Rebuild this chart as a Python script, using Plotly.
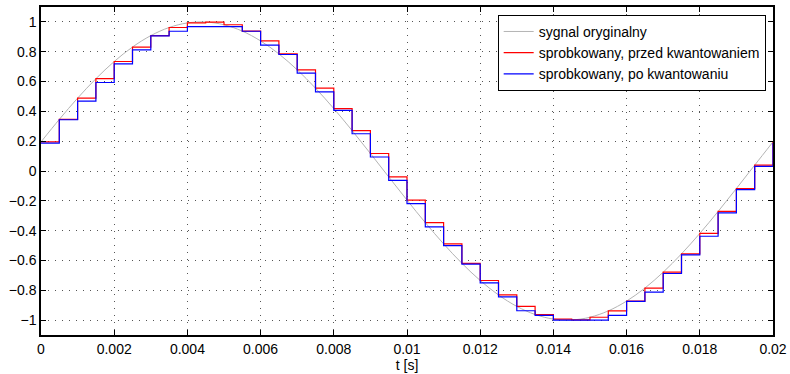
import plotly.graph_objects as go

# sample times (s)
t = [0.0, 0.0005, 0.001, 0.0015, 0.002, 0.0025, 0.003, 0.0035, 0.004, 0.0045,
     0.005, 0.0055, 0.006, 0.0065, 0.007, 0.0075, 0.008, 0.0085, 0.009, 0.0095,
     0.01, 0.0105, 0.011, 0.0115, 0.012, 0.0125, 0.013, 0.0135, 0.014, 0.0145,
     0.015, 0.0155, 0.016, 0.0165, 0.017, 0.0175, 0.018, 0.0185, 0.019, 0.0195, 0.02]

# sampled, before quantisation (also the original signal values at the sample instants)
sampled = [0.1951, 0.3461, 0.4886, 0.6190, 0.7343, 0.8315, 0.9081, 0.9625, 0.9931, 0.9992,
           0.9808, 0.9382, 0.8725, 0.7853, 0.6788, 0.5556, 0.4187, 0.2714, 0.1175, -0.0393,
           -0.1951, -0.3461, -0.4886, -0.6190, -0.7343, -0.8315, -0.9081, -0.9625, -0.9931, -0.9992,
           -0.9808, -0.9382, -0.8725, -0.7853, -0.6788, -0.5556, -0.4187, -0.2714, -0.1175, 0.0393,
           0.1951]

# sampled, after quantisation
quantized = [0.1875, 0.34375, 0.46875, 0.59375, 0.71875, 0.8125, 0.90625, 0.9375, 0.96875, 0.96875,
             0.96875, 0.9375, 0.84375, 0.78125, 0.65625, 0.53125, 0.40625, 0.25, 0.09375, -0.0625,
             -0.21875, -0.375, -0.5, -0.625, -0.75, -0.84375, -0.9375, -0.96875, -1.0, -1.0,
             -1.0, -0.96875, -0.875, -0.8125, -0.6875, -0.5625, -0.4375, -0.28125, -0.125, 0.03125,
             0.1875]

xtick_vals = [0, 0.002, 0.004, 0.006, 0.008, 0.01, 0.012, 0.014, 0.016, 0.018, 0.02]
xtick_text = ["0", "0.002", "0.004", "0.006", "0.008", "0.01", "0.012", "0.014", "0.016", "0.018", "0.02"]
ytick_vals = [-1, -0.8, -0.6, -0.4, -0.2, 0, 0.2, 0.4, 0.6, 0.8, 1]
ytick_text = ["\u22121", "\u22120.8", "\u22120.6", "\u22120.4", "\u22120.2", "0", "0.2", "0.4", "0.6", "0.8", "1"]

names = ["sygnal oryginalny", "sprobkowany, przed kwantowaniem", "sprobkowany, po kwantowaniu"]

FONT = "Liberation Sans, Arial, sans-serif"

fig = go.Figure()
fig.add_trace(go.Scatter(x=t, y=sampled, mode="lines", name=names[0],
                         line=dict(color="#b4b4b4", width=1, shape="spline", smoothing=1.0)))
fig.add_trace(go.Scatter(x=t, y=sampled, mode="lines", name=names[1],
                         line=dict(color="#ff0000", width=1.2, shape="hv")))
fig.add_trace(go.Scatter(x=t, y=quantized, mode="lines", name=names[2],
                         line=dict(color="#0000ff", width=1.2, shape="hv")))

axis_common = dict(
    showline=True, linecolor="black", linewidth=1.5, mirror="ticks",
    ticks="inside", ticklen=5, tickcolor="black", tickwidth=1,
    showgrid=True, gridcolor="#555555", griddash="1px,6px", gridwidth=1,
    zeroline=False, tickfont=dict(family=FONT, size=14, color="black"),
    automargin=False,
)

fig.update_xaxes(range=[0, 0.02], tickvals=xtick_vals, ticktext=xtick_text,
                 title=dict(text="t [s]", standoff=0,
                            font=dict(family=FONT, size=14, color="black")),
                 **axis_common)
fig.update_yaxes(range=[-1.1, 1.1], tickvals=ytick_vals, ticktext=ytick_text, **axis_common)

fig.update_layout(
    width=790, height=374,
    margin=dict(l=41, r=17, t=7, b=39),
    plot_bgcolor="white", paper_bgcolor="white",
    font=dict(family=FONT, size=14, color="black"),
    legend=dict(x=0.99, y=0.976, xanchor="right", yanchor="top",
                bgcolor="white", bordercolor="black", borderwidth=1,
                font=dict(size=14), tracegroupgap=0, itemwidth=30),
    showlegend=True,
)

fig.write_html("out.html", config={"displayModeBar": False},
               post_script="document.body.style.margin='0';")
